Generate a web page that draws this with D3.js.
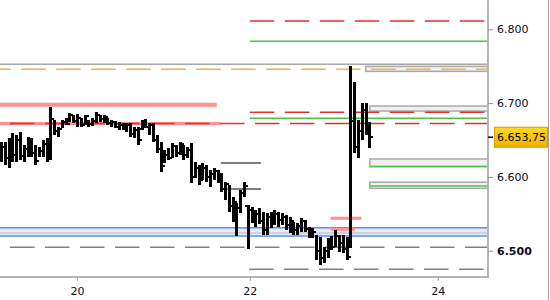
<!DOCTYPE html>
<html>
<head>
<meta charset="utf-8">
<script src="https://cdn.jsdelivr.net/npm/d3@7"></script>
<style>
body { margin: 0; background: #fff; }
svg { display: block; font-family: "DejaVu Sans", Verdana, sans-serif; }
</style>
</head>
<body>
<div id="graphic"></div>
<script>
// OHLC bars (one entry per bar index)
var opens = [6630, 6640, 6625, 6645, 6630, 6650, 6628, 6638, 6648, 6632, 6622, 6635, 6645, 6628,
  6678, 6662, 6665, 6675, 6672, 6684, 6676, 6680, 6670, 6682, 6672, 6676, 6684, 6678, 6681, 6673,
  6675, 6668, 6671, 6665, 6670, 6658, 6664, 6665, 6675, 6668, 6670, 6650, 6638, 6615, 6630, 6626,
  6642, 6632, 6644, 6630, 6636, 6600, 6612, 6596, 6612, 6600, 6604, 6608, 6596, 6584, 6590, 6560,
  6566, 6558, 6578, 6560, 6555, 6545, 6550, 6540, 6528, 6545, 6538, 6550, 6542, 6546, 6535, 6540,
  6528, 6534, 6540, 6530, 6522, 6526, 6500, 6490, 6500, 6510, 6505, 6520, 6510, 6502, 6504, 6676,
  6640, 6662, 6690, 6670];
var highs = [6647.25, 6647.25, 6652.75, 6659.5, 6656.75, 6660.75, 6643.25, 6654, 6652.75, 6643.25,
  6640.5, 6650, 6652.75, 6694.75, 6677, 6667.5, 6677, 6679.75, 6686.5, 6684, 6685.25, 6679.75, 6684,
  6677, 6679.75, 6688, 6684, 6684, 6679.75, 6677, 6675.75, 6674.5, 6673, 6673, 6673, 6667.5, 6667.5,
  6677, 6678.5, 6673, 6673, 6656.75, 6647.25, 6636.5, 6639.25, 6646, 6643.25, 6647.25, 6643.25,
  6640.5, 6646, 6620.25, 6616, 6618.75, 6616, 6609.5, 6612, 6609.5, 6605.25, 6593, 6589, 6572.75,
  6564.5, 6582.25, 6593, 6562, 6559.25, 6555.25, 6558, 6552.5, 6551, 6552.5, 6555.25, 6552.5, 6551,
  6548.5, 6545.75, 6539, 6537.5, 6544.25, 6541.5, 6532.25, 6530.75, 6521.25, 6518.5, 6505, 6517.25,
  6520, 6528, 6521.25, 6521.25, 6518.5, 6750.25, 6728.5, 6677, 6700.25, 6700.25, 6674.5];
var lows = [6620.25, 6616, 6612, 6620.25, 6620.25, 6623, 6620.25, 6627, 6627, 6616, 6627, 6627,
  6620.25, 6623, 6656.75, 6654, 6666.25, 6670.25, 6674.5, 6673, 6667.5, 6667.5, 6670.25, 6667.5, 6669,
  6673, 6674.5, 6673, 6670.25, 6667.5, 6666.25, 6663.5, 6663.5, 6660.75, 6654, 6652.75, 6643.25,
  6663.5, 6666.25, 6656.75, 6647.25, 6632.5, 6606.5, 6618.75, 6623, 6625.5, 6627, 6629.75, 6623,
  6625.5, 6591.75, 6598.5, 6589, 6595.75, 6593, 6586.25, 6595.75, 6591.75, 6579.5, 6568.75, 6552.5,
  6539, 6520, 6551, 6572.75, 6502.5, 6537.5, 6532.25, 6536.25, 6521.25, 6521.25, 6530.75, 6535,
  6532.25, 6535, 6528, 6524, 6521.25, 6521.25, 6525.5, 6525.5, 6517.25, 6517.25, 6487.5, 6480.75,
  6483.5, 6490.25, 6501, 6505, 6498.25, 6497, 6487.5, 6503.75, 6632.5, 6625.5, 6650, 6656.75, 6639.25];
var closes = [6640, 6625, 6645, 6630, 6650, 6628, 6638, 6648, 6632, 6622, 6635, 6645, 6628, 6678,
  6662, 6665, 6675, 6672, 6684, 6676, 6680, 6670, 6682, 6672, 6676, 6684, 6678, 6681, 6673, 6675,
  6668, 6671, 6665, 6670, 6658, 6664, 6650, 6675, 6668, 6670, 6650, 6638, 6615, 6630, 6626, 6642,
  6632, 6644, 6630, 6636, 6600, 6612, 6596, 6612, 6600, 6604, 6608, 6596, 6584, 6590, 6560, 6566,
  6558, 6578, 6588, 6555, 6545, 6550, 6540, 6528, 6545, 6538, 6550, 6542, 6546, 6535, 6540, 6528,
  6534, 6540, 6530, 6522, 6526, 6500, 6490, 6500, 6510, 6505, 6520, 6510, 6502, 6492, 6675.75, 6640,
  6662, 6690, 6670, 6653.75];

var lastPrice = 6653.75;

var yTickValues = [6500, 6600, 6700, 6800];
var xTickLabels = ["20", "22", "24"];
var xTickIndex = [20, 65.5, 115];

// levels drawn across the chart (from / to given in bar index)
var redLevels = [6811.25, 6687.5, 6672.5];
var redFrom = [65.5, 65.5, null];
var greenLevels = [6783.75, 6679.5, 6614, 6587.75];
var greenFrom = [65.5, 65.5, 97.1, 97.1];
var greyLevel = 6752.5;
var orangeLevel = 6745.75;
var pinkLevels = [6697.75, 6672.5, 6544, 6529];
var pinkFrom = [null, null, 86.8, 86.8];
var pinkTo = [56.8, 57.8, 94.9, 93.2];
var zoneTops = [6749.75, 6696, 6624.25, 6592.75];
var zoneBottoms = [6743, 6689.25, 6614, 6584.5];
var zoneFrom = [96, 97.1, 97.1, 97.1];
var segLevels = [6618.75, 6583.75];
var segFrom = [57.9, 58.9];
var segTo = [68.4, 68.4];
var blueTop = 6531.25, blueMid = 6524, blueBottom = 6520;
var greyDashLevels = [6504.75, 6474.75];
var greyDashFrom = [null, 65.3];

var width = 550, height = 300;
var plotW = 488, plotH = 277;

var de = d3.formatLocale({decimal: ",", thousands: ".", grouping: [3], currency: ["", ""]});

var svg = d3.select("#graphic").append("svg")
  .attr("width", width)
  .attr("height", height);

var x = d3.scaleLinear().domain([-0.25, 128.2]).range([0, plotW]);
var y = d3.scaleLinear().domain([6800, 6500]).range([29.3, 250.7]);
var xMin = x.domain()[0], xMax = x.domain()[1];

var plot = svg.append("g");

function hline(p, from, to, color, w, dash, offset) {
  var l = plot.append("line")
    .attr("x1", x(from == null ? xMin : from))
    .attr("x2", x(to == null ? xMax : to))
    .attr("y1", y(p)).attr("y2", y(p))
    .attr("stroke", color)
    .attr("stroke-width", w);
  if (dash) l.attr("stroke-dasharray", dash).attr("stroke-dashoffset", offset || 0);
  return l;
}

// blue zone
plot.append("rect")
  .attr("x", x(xMin)).attr("width", x(xMax) - x(xMin))
  .attr("y", y(blueTop)).attr("height", y(blueBottom) - y(blueTop))
  .attr("fill", "#e6eaf7");
hline(blueMid, null, null, "#b4b8c8", 1);
hline(blueTop, null, null, "#5a8ef0", 1.5);
hline(blueBottom, null, null, "#5a8ef0", 1.5);

// grey boxes on the right
zoneTops.forEach(function(t, i) {
  plot.append("rect")
    .attr("x", x(zoneFrom[i])).attr("width", x(xMax) - x(zoneFrom[i]))
    .attr("y", y(t)).attr("height", y(zoneBottoms[i]) - y(t))
    .attr("fill", "#f0f0f0")
    .attr("stroke", "#a8a8a8")
    .attr("stroke-width", 1.5);
});

hline(greyLevel, null, null, "#a8a8a8", 1.5);
hline(orangeLevel, null, null, "#f2b440", 1.5, "24.5,10.5", 13.8);

pinkLevels.forEach(function(p, i) {
  hline(p, pinkFrom[i], pinkTo[i], "#ff9090", i == 0 ? 4 : 3);
});

redLevels.forEach(function(p, i) {
  hline(p, redFrom[i], null, "#e33030", 1.5, "24.5,10.5", redFrom[i] == null ? 25 : 0);
});
greenLevels.forEach(function(p, i) {
  hline(p, greenFrom[i], null, "#4fc04f", 1.5);
});
segLevels.forEach(function(p, i) {
  hline(p, segFrom[i], segTo[i], "#808080", 2);
});
greyDashLevels.forEach(function(p, i) {
  hline(p, greyDashFrom[i], null, "#808080", 1.5, "24.5,10.5", greyDashFrom[i] == null ? 25 : 0);
});

// OHLC bars
var bars = plot.append("g").selectAll("g")
  .data(d3.range(opens.length))
  .enter().append("g")
  .attr("fill", "#000");

function cx(i) { return Math.round(x(i)); }

bars.append("rect")
  .attr("x", function(i) { return cx(i) - 1; })
  .attr("width", 3)
  .attr("y", function(i) { return Math.round(y(highs[i])); })
  .attr("height", function(i) { return Math.max(2, Math.round(y(lows[i])) - Math.round(y(highs[i]))); });
bars.append("rect")
  .attr("x", function(i) { return cx(i) - 3; })
  .attr("width", 2)
  .attr("y", function(i) { return Math.round(y(opens[i])) - 1; })
  .attr("height", 2);
bars.append("rect")
  .attr("x", function(i) { return cx(i) + 2; })
  .attr("width", 2)
  .attr("y", function(i) { return Math.round(y(closes[i])) - 1; })
  .attr("height", 2);

// frame
svg.append("line")
  .attr("x1", plotW).attr("x2", plotW).attr("y1", 0).attr("y2", plotH + 1)
  .attr("stroke", "#b4b4b4").attr("stroke-width", 2);
svg.append("line")
  .attr("x1", 0).attr("x2", plotW + 1).attr("y1", plotH).attr("y2", plotH)
  .attr("stroke", "#b4b4b4").attr("stroke-width", 2);
svg.append("line")
  .attr("x1", 548.5).attr("x2", 548.5).attr("y1", 0).attr("y2", height)
  .attr("stroke", "#a0a0a0").attr("stroke-width", 1);

// y axis
var yAxis = svg.append("g")
  .attr("transform", "translate(" + plotW + ",0)")
  .call(d3.axisRight(y).tickValues(yTickValues).tickSize(5).tickPadding(4).tickFormat(de.format(",.0f")));
yAxis.select(".domain").remove();
yAxis.selectAll("line").attr("stroke", "#909090");
yAxis.selectAll("text")
  .attr("font-size", 11)
  .attr("font-family", "DejaVu Sans, Verdana, sans-serif")
  .attr("fill", "#0a0a1e")
  .attr("font-weight", function(d) { return d == 6500 ? "bold" : "normal"; });

// x axis
var xAxis = svg.append("g")
  .attr("transform", "translate(0," + plotH + ")")
  .call(d3.axisBottom(x).tickValues(xTickIndex).tickSize(4).tickPadding(6)
    .tickFormat(function(d, i) { return xTickLabels[i]; }));
xAxis.select(".domain").remove();
xAxis.selectAll("line").attr("stroke", "#a0a0a0");
xAxis.selectAll("text")
  .attr("font-size", 11)
  .attr("font-family", "DejaVu Sans, Verdana, sans-serif")
  .attr("fill", "#0a0a1e");

// last price marker
var grad = svg.append("defs").append("linearGradient")
  .attr("id", "gold").attr("x1", 0).attr("x2", 0).attr("y1", 0).attr("y2", 1);
grad.append("stop").attr("offset", "0%").attr("stop-color", "#ffd928");
grad.append("stop").attr("offset", "100%").attr("stop-color", "#eeb000");

var ly = y(lastPrice);
svg.append("line")
  .attr("x1", plotW).attr("x2", plotW + 5).attr("y1", ly).attr("y2", ly)
  .attr("stroke", "#000").attr("stroke-width", 1.5);
svg.append("rect")
  .attr("x", 494.5).attr("y", ly - 10).attr("width", 53).attr("height", 20)
  .attr("fill", "url(#gold)")
  .attr("stroke", "#d0a000").attr("stroke-width", 1);
svg.append("text")
  .attr("x", 497).attr("y", ly)
  .attr("dy", "0.36em")
  .attr("font-size", 11)
  .attr("fill", "#000")
  .text(de.format(",.2f")(lastPrice));
</script>
</body>
</html>
